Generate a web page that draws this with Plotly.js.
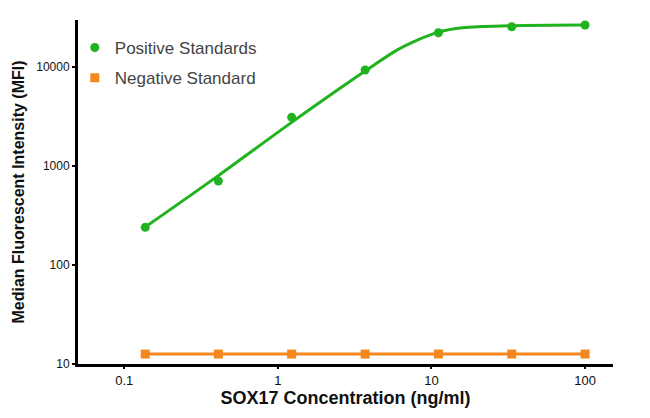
<!DOCTYPE html>
<html>
<head>
<meta charset="utf-8">
<script src="https://cdn.plot.ly/plotly-3.0.1.min.js"></script>
<style>html,body{margin:0;padding:0;background:#fff;}#chart{width:650px;height:418px;}</style>
</head>
<body>
<div id="chart"></div>
<script>
// Measured standards (3-fold dilution series)
const concentration = [0.137, 0.41, 1.23, 3.7, 11.1, 33.3, 100];
const positiveMFI = [240, 705, 3100, 9330, 22200, 25500, 26550];
const negativeMFI = [12.6, 12.6, 12.6, 12.6, 12.6, 12.6, 12.6];
// Fitted standard curve
const fitConc = [0.137, 0.41, 1.23, 3.7, 6.0, 8.1, 11.1, 16, 33.3, 100];
const fitMFI = [242, 800, 2760, 9100, 14900, 18700, 22500, 24900, 26100, 26550];
const seriesNames = ["Positive Standards", "Negative Standard"];
const yTickVals = [10, 100, 1000, 10000];
const yTickText = ["10", "100", "1000", "10000"];
const xTickVals = [0.1, 1, 10, 100];
const xTickText = ["0.1", "1", "10", "100"];

const GREEN = "#1fb31f", ORANGE = "#f5871f";
const FONT = "Liberation Sans, Arial, sans-serif";

const traces = [
  {
    x: concentration, y: positiveMFI, name: seriesNames[0], legendgroup: "a",
    mode: "markers", type: "scatter",
    marker: {color: GREEN, size: 9, symbol: "circle"}
  },
  {
    x: concentration, y: negativeMFI, name: seriesNames[1] + " line", legendgroup: "b", showlegend: false,
    mode: "lines", type: "scatter",
    line: {color: ORANGE, width: 3}
  },
  {
    x: concentration, y: negativeMFI, name: seriesNames[1], legendgroup: "b",
    mode: "markers", type: "scatter",
    marker: {color: ORANGE, size: 9, symbol: "square"}
  },
  {
    x: fitConc, y: fitMFI, name: seriesNames[0] + " fit", legendgroup: "a", showlegend: false,
    mode: "lines", type: "scatter",
    line: {color: GREEN, width: 3, shape: "spline", smoothing: 1}
  }
];

const layout = {
  width: 650, height: 418,
  margin: {l: 78, r: 37, t: 20, b: 54},
  paper_bgcolor: "#fff", plot_bgcolor: "#fff",
  showlegend: true,
  legend: {x: -0.006, y: 0.971, xanchor: "left", yanchor: "top",
    font: {family: FONT, size: 17, color: "#444"},
    traceorder: "grouped", tracegroupgap: 5, bgcolor: "rgba(0,0,0,0)", itemwidth: 30},
  xaxis: {
    type: "log", range: [Math.log10(0.05), Math.log10(152)],
    tickvals: xTickVals, ticktext: xTickText,
    showgrid: false, zeroline: false, showline: true, linecolor: "#000", linewidth: 3,
    ticks: "outside", ticklen: 2, tickwidth: 2, tickcolor: "#000",
    tickfont: {family: FONT, size: 13, color: "#111"},
    title: {text: "<b>SOX17 Concentration (ng/ml)</b>", standoff: 0,
      font: {family: FONT, size: 18, color: "#111"}}
  },
  yaxis: {
    type: "log", range: [1, 4.475],
    tickvals: yTickVals, ticktext: yTickText,
    showgrid: false, zeroline: false, showline: true, linecolor: "#000", linewidth: 3,
    ticks: "outside", ticklen: 3, tickwidth: 2, tickcolor: "#000",
    tickfont: {family: FONT, size: 12, color: "#111"},
    title: {text: "<b>Median Fluorescent Intensity (MFI)</b>", standoff: 8,
      font: {family: FONT, size: 16, color: "#111"}}
  }
};

Plotly.newPlot("chart", traces, layout, {displayModeBar: false, staticPlot: true});
</script>
</body>
</html>
